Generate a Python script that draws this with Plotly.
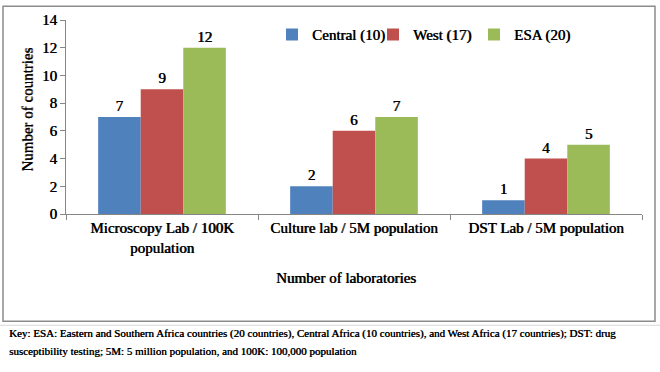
import plotly.graph_objects as go

categories = ["Microscopy Lab / 100K<br>population", "Culture lab / 5M population", "DST Lab / 5M population"]
series_names = ["Central (10)", "West (17)", "ESA (20)"]
central = [7, 2, 1]
west = [9, 6, 4]
esa = [12, 7, 5]
colors = ["#4F81BD", "#C0504D", "#9BBB59"]
y_ticks = [0, 2, 4, 6, 8, 10, 12, 14]
caption = ("Key: ESA: Eastern and Southern Africa countries (20 countries), Central Africa (10 countries), "
           "and West Africa (17 countries); DST: drug")
caption2 = "susceptibility testing; 5M: 5 million population, and 100K: 100,000 population"

W, H = 660, 372
L, R, T, B = 66, 18, 17, 158
PW, PH = W - L - R, H - T - B

def px(x):
    return (x - L) / PW

def py(y):
    return (H - B - y) / PH

FONT = "Liberation Serif"
def f(size, sh="0.6px 0 0 #000"):
    return dict(family=FONT, size=size, color="#000", shadow=sh)

fig = go.Figure()
for name, vals, c in zip(series_names, [central, west, esa], colors):
    fig.add_trace(go.Bar(
        x=categories, y=vals, name=name,
        marker=dict(color=c, line=dict(width=0)),
        text=[str(v) for v in vals], textposition="outside", cliponaxis=False,
        textfont=f(15),
    ))

fig.update_layout(
    width=W, height=H, margin=dict(l=L, r=R, t=T, b=B),
    paper_bgcolor="white", plot_bgcolor="white",
    barmode="group", bargap=0.335, bargroupgap=0,
    font=f(15),
    showlegend=True,
    legend=dict(orientation="h", x=px(272), y=py(32), xanchor="left", yanchor="middle",
                font=f(15), bgcolor="rgba(0,0,0,0)",
                itemwidth=30, traceorder="normal", entrywidth=56, entrywidthmode="pixels"),
    xaxis=dict(showline=True, linecolor="#868686", linewidth=1, ticks="outside", ticklen=5,
               tickcolor="#868686", tickson="boundaries", showgrid=False, tickangle=0,
               tickfont=f(15)),
    yaxis=dict(range=[0, 14], tickvals=y_ticks,
               showline=True, linecolor="#868686", linewidth=1,
               ticks="outside", ticklen=5, tickcolor="#868686", showgrid=False, zeroline=False,
               tickfont=f(15)),
)

fig.add_annotation(text="Number of countries", textangle=-90, xref="paper", yref="paper",
                   x=px(27), y=py(108), xanchor="center", yanchor="middle", showarrow=False,
                   font=f(15, "0 0.6px 0 #000"))
fig.add_annotation(text="Number of laboratories", xref="paper", yref="paper",
                   x=px(346), y=py(279), xanchor="center", yanchor="middle", showarrow=False, font=f(15))
fig.add_annotation(text=caption, xref="paper", yref="paper", x=px(7), y=py(335),
                   xanchor="left", yanchor="middle", showarrow=False, font=f(11, "0.4px 0 0 #000"))
fig.add_annotation(text=caption2, xref="paper", yref="paper", x=px(7), y=py(353),
                   xanchor="left", yanchor="middle", showarrow=False, font=f(11, "0.4px 0 0 #000"))

# chart border
fig.add_shape(type="rect", xref="paper", yref="paper", x0=px(3), x1=px(655), y0=py(323), y1=py(3),
              line=dict(color="#8C8C8C", width=1.5), layer="below")
fig.add_shape(type="line", xref="paper", yref="paper", x0=px(0), x1=px(660), y0=py(327), y1=py(327),
              line=dict(color="#D9D9D9", width=1))

fig.write_html("out.html")
